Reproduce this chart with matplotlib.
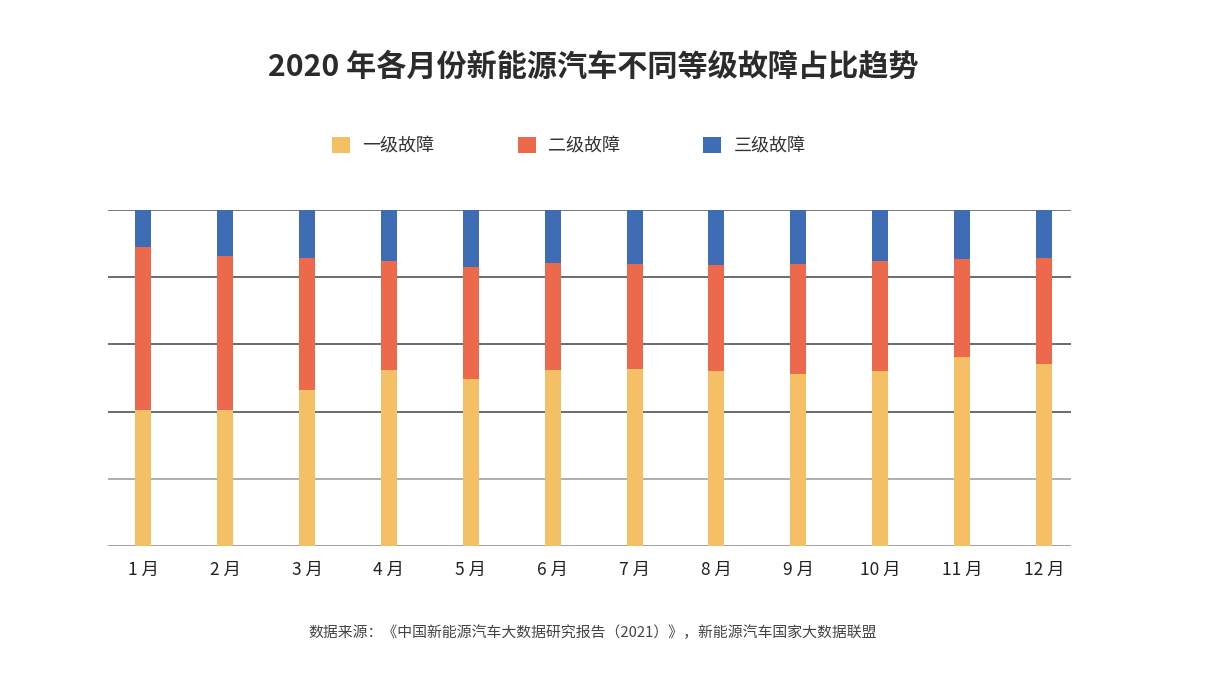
import matplotlib.pyplot as plt
import numpy as np

plt.rcParams['font.family'] = ['Noto Sans CJK SC', 'DejaVu Sans']

months = ['1 月', '2 月', '3 月', '4 月', '5 月', '6 月', '7 月', '8 月', '9 月', '10 月', '11 月', '12 月']
series_names = ['一级故障', '二级故障', '三级故障']
# shares in percent
level1 = [40.5, 40.5, 46.4, 52.4, 49.7, 52.4, 52.7, 52.1, 51.2, 52.1, 56.3, 54.2]
level2 = [48.5, 45.8, 39.3, 32.4, 33.3, 31.8, 31.2, 31.5, 32.7, 32.7, 29.1, 31.5]
level3 = [11.0, 13.7, 14.3, 15.2, 17.0, 15.8, 16.1, 16.4, 16.1, 15.2, 14.6, 14.3]
colors = ['#F5BF65', '#EC694B', '#3E6DB5']

fig = plt.figure(figsize=(12.3, 6.82), dpi=100)
ax = fig.add_axes([108 / 1230, 136 / 682, 963 / 1230, 336 / 682])

x = np.arange(len(months))
bottom = np.zeros(len(months))
handles = []
for vals, name, c in zip([level1, level2, level3], series_names, colors):
    vals = np.array(vals)
    b = ax.bar(x, vals, width=0.195, bottom=bottom, color=c, label=name, zorder=3)
    handles.append(b)
    bottom += vals

ax.set_ylim(0, 100)
ax.set_xlim(-0.43, 11.33)
ax.set_yticks(np.arange(0, 101, 20))
ax.set_yticklabels([])
ax.tick_params(axis='y', length=0)
ax.tick_params(axis='x', length=0, pad=11, labelsize=12.5, labelcolor='#222222')
ax.set_xticks(x)
ax.set_xticklabels(months)
for s in ax.spines.values():
    s.set_visible(False)

grid_colors = ['#888888', '#999999', '#444444', '#444444', '#444444', '#555555']
for yv, gc in zip(np.arange(0, 101, 20), grid_colors):
    ax.axhline(yv, color=gc, linewidth=1.1, zorder=1)

fig.text(0.482, 0.902, '2020 年各月份新能源汽车不同等级故障占比趋势', ha='center', va='center',
         fontsize=21.7, fontweight='bold', color='#2b2b2b')

leg = fig.legend(handles=handles, labels=series_names, ncol=3, loc='center',
                 bbox_to_anchor=(0.4625, 0.786), frameon=False, fontsize=13,
                 handlelength=1.0, handleheight=1.0, handletextpad=0.7, columnspacing=4.6)
for t in leg.get_texts():
    t.set_color('#333333')

fig.text(0.482, 0.073, '数据来源：《中国新能源汽车大数据研究报告（2021）》，新能源汽车国家大数据联盟',
         ha='center', va='center', fontsize=10.7, color='#444444')

fig.savefig('out.png', dpi=100)
